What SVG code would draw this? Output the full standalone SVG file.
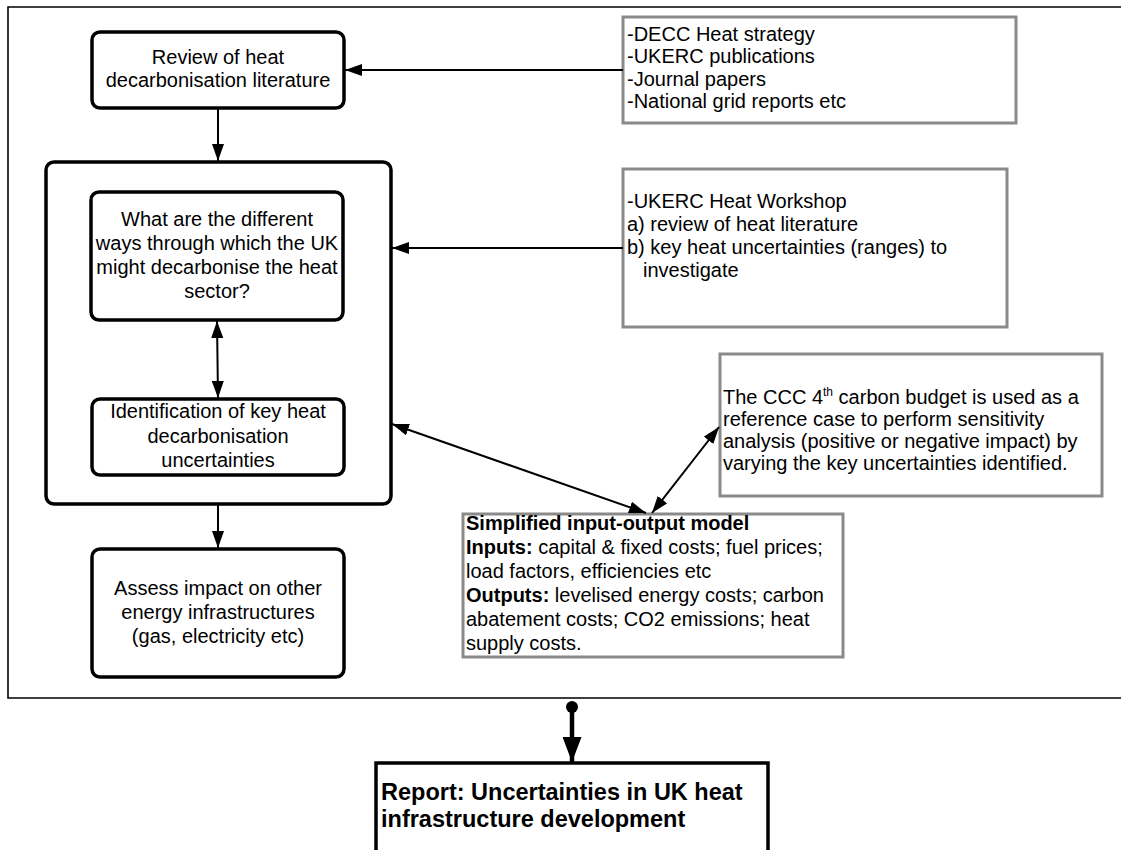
<svg xmlns="http://www.w3.org/2000/svg" width="1121" height="850" viewBox="0 0 1121 850">
<style>
.nd{fill:#fff;stroke:#000;stroke-width:3.5}
.gb{fill:#fff;stroke:#8a8a8a;stroke-width:3}
.t{font-family:"Liberation Sans",Arial,sans-serif;font-size:20px;fill:#000}
.c{text-anchor:middle}
.b{font-weight:bold}
.big{font-size:23.5px}
.ln{stroke:#000;stroke-width:2;fill:none}
</style>
<defs>
<marker id="ah" markerUnits="userSpaceOnUse" markerWidth="17" markerHeight="12" refX="17" refY="6" orient="auto-start-reverse" viewBox="0 0 17 12"><path d="M0,0 L17,6 L0,12 z" fill="#000"/></marker>
<marker id="ahb" markerUnits="userSpaceOnUse" markerWidth="25" markerHeight="19" refX="25" refY="9.5" orient="auto" viewBox="0 0 25 19"><path d="M0,0 L25,9.5 L0,19 z" fill="#000"/></marker>
</defs>
<g id="frame"><path d="M1121,7 H8 V698 H1121" fill="none" stroke="#000" stroke-width="1.6"/></g>
<g id="review"><rect class="nd" x="92" y="32" width="252" height="76" rx="8"/>
<text class="t c" x="218" y="64">Review of heat</text><text class="t c" x="218" y="87">decarbonisation literature</text></g>
<g id="container"><rect class="nd" x="46" y="162" width="345" height="342" rx="8"/></g>
<g id="ways"><rect class="nd" x="91" y="192" width="252" height="128" rx="8"/>
<text class="t c" x="217" y="226">What are the different</text><text class="t c" x="217" y="250">ways through which the UK</text><text class="t c" x="217" y="274">might decarbonise the heat</text><text class="t c" x="217" y="298">sector?</text></g>
<g id="ident"><rect class="nd" x="92" y="399" width="252" height="76" rx="8"/>
<text class="t c" x="218" y="418">Identification of key heat</text><text class="t c" x="218" y="443">decarbonisation</text><text class="t c" x="218" y="467">uncertainties</text></g>
<g id="assess"><rect class="nd" x="92" y="549" width="252" height="128" rx="8"/>
<text class="t c" x="218" y="595">Assess impact on other</text><text class="t c" x="218" y="619">energy infrastructures</text><text class="t c" x="218" y="643">(gas, electricity etc)</text></g>
<g id="decc"><rect class="gb" x="623" y="17" width="393" height="106"/>
<text class="t" x="627" y="41">-DECC Heat strategy</text><text class="t" x="627" y="63">-UKERC publications</text><text class="t" x="627" y="86">-Journal papers</text><text class="t" x="627" y="108">-National grid reports etc</text></g>
<g id="workshop"><rect class="gb" x="623" y="169" width="384" height="158"/>
<text class="t" x="627" y="208">-UKERC Heat Workshop</text><text class="t" x="627" y="231">a) review of heat literature</text><text class="t" x="627" y="254">b) key heat uncertainties (ranges) to</text><text class="t" x="643" y="277">investigate</text></g>
<g id="ccc"><rect class="gb" x="720" y="354" width="382" height="142"/>
<text class="t" x="723" y="404">The CCC 4<tspan font-size="12" dy="-8">th</tspan><tspan dy="8"> carbon budget is used as a</tspan></text><text class="t" x="723" y="426">reference case to perform sensitivity</text><text class="t" x="723" y="448">analysis (positive or negative impact) by</text><text class="t" x="723" y="470">varying the key uncertainties identified.</text></g>
<g id="model"><rect class="gb" x="463" y="514" width="380" height="143"/>
<text class="t b" x="466" y="530">Simplified input-output model</text>
<text class="t" x="466" y="554"><tspan class="b">Inputs:</tspan> capital &amp; fixed costs; fuel prices;</text>
<text class="t" x="466" y="578">load factors, efficiencies etc</text>
<text class="t" x="466" y="602"><tspan class="b">Outputs:</tspan> levelised energy costs; carbon</text>
<text class="t" x="466" y="626">abatement costs; CO2 emissions; heat</text>
<text class="t" x="466" y="650">supply costs.</text></g>
<g id="report"><path d="M376,850 V763 H768 V850" fill="#fff" stroke="#000" stroke-width="3.5"/>
<text class="t b big" x="381" y="800">Report: Uncertainties in UK heat</text><text class="t b big" x="381" y="827">infrastructure development</text></g>
<g id="connectors">
<line class="ln" x1="623" y1="70" x2="345" y2="70" marker-end="url(#ah)"/>
<line class="ln" x1="218" y1="108" x2="218" y2="161" marker-end="url(#ah)"/>
<line class="ln" x1="623" y1="248" x2="392" y2="248" marker-end="url(#ah)"/>
<line class="ln" x1="217" y1="321" x2="218" y2="398" marker-start="url(#ah)" marker-end="url(#ah)"/>
<line class="ln" x1="218" y1="504" x2="218" y2="548" marker-end="url(#ah)"/>
<line class="ln" x1="392" y1="424" x2="646" y2="513" marker-start="url(#ah)" marker-end="url(#ah)"/>
<line class="ln" x1="652" y1="513" x2="719" y2="427" marker-start="url(#ah)" marker-end="url(#ah)"/>
<circle cx="572" cy="707" r="6" fill="#000"/>
<line x1="572" y1="707" x2="572" y2="762" stroke="#000" stroke-width="4.5" marker-end="url(#ahb)"/>
</g>
</svg>
